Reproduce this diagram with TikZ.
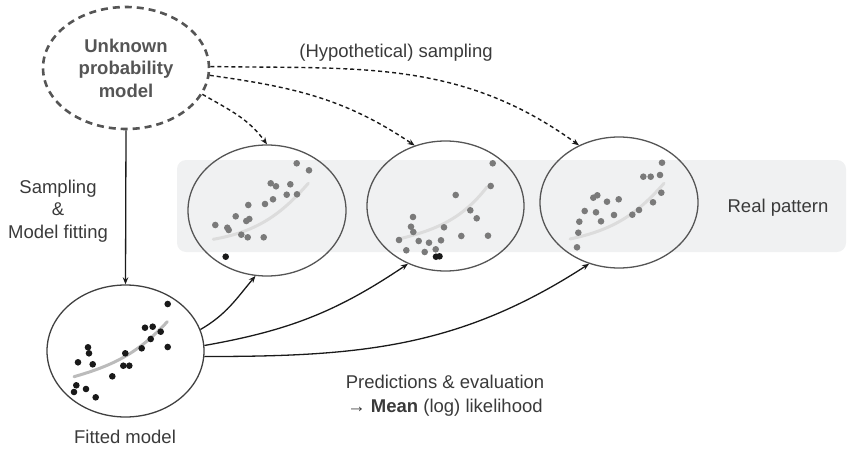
\documentclass[tikz,border=0pt]{standalone}
\usepackage{fontspec}
\setmainfont{Liberation Sans}
\usetikzlibrary{shapes.geometric,arrows.meta}
\definecolor{txt}{HTML}{3A3A3A}
\definecolor{modeltxt}{HTML}{555555}
\definecolor{bandgray}{HTML}{F0F1F2}
\definecolor{rim}{HTML}{555555}
\definecolor{dotgray}{HTML}{7A7A7A}
\definecolor{trend}{HTML}{DCDCDC}
\definecolor{fittrend}{HTML}{BBBBBB}
\definecolor{ink}{HTML}{1A1A1A}
\tikzset{
  lbl/.style={font=\fontsize{18.5}{22}\selectfont, text=txt, align=center, inner sep=0pt},
  sample/.style={ellipse, draw=rim, line width=1.3pt, inner sep=0pt},
  hypo/.style={dash pattern=on 4pt off 3pt, line width=1.4pt, draw=ink,
    -{Stealth[length=7pt,width=5.5pt]}},
  pred/.style={line width=1.3pt, draw=ink, -{Stealth[length=7pt,width=5.5pt]}},
  trendline/.style={trend, line width=3pt, line cap=round},
  gdot/.style={fill=dotgray},
  bdot/.style={fill=black!90},
}
\newcommand{\dotr}{3.3}
\begin{document}
\begin{tikzpicture}[x=1pt,y=1pt]
\useasboundingbox (0,0) rectangle (848,451);

% shaded band behind the three sampled data sets
\fill[bandgray, rounded corners=9pt] (177,199) rectangle (846,291);
\node[lbl] (real) at (778,243) {Real pattern};

% the unknown generating model
\node[ellipse, draw=modeltxt, line width=2.6pt, dash pattern=on 7pt off 5pt,
      minimum width=166pt, minimum height=122pt, inner sep=0pt,
      font=\fontsize{18.5}{22.5}\selectfont\bfseries, text=modeltxt, align=center]
  (u) at (126,383) {Unknown\\probability\\model};

% sampled data sets
\node[sample, minimum width=158pt, minimum height=131pt] (c1) at (267,240.5) {};
\node[sample, minimum width=157pt, minimum height=130pt] (c2) at (445.5,245) {};
\node[sample, minimum width=158pt, minimum height=131pt] (c3) at (619,248.5) {};
\node[sample, draw=black!75, minimum width=157pt, minimum height=132pt] (fit) at (125.5,100) {};

% trend curves
\draw[trendline] (213.3,211.7) to[out=10,in=-131] (308.3,267.7);
\draw[trendline] (399,212) to[out=14,in=-128] (487,264);
\draw[trendline] (570,212) to[out=12,in=-131] (664,267.7);
\draw[trendline, fittrend] (74,74.3) to[out=16,in=-133] (167.3,129.3);

% data set 1
\foreach \p in {(296.7,287.7),(309,280.7),(270.7,267.7),(276,264.7),(290.3,266.7),
  (286.7,256.3),(297,256.7),(273,251.7),(265,247),(248.3,246),(235.7,234.7),
  (249.3,232),(246.3,230),(215.3,226),(227.3,223.3),(228.7,221),(241.3,216.3),
  (247.7,213.7),(263.7,213.7)}
  \fill[gdot] \p circle (\dotr);
\fill[bdot] (225.7,194.3) circle (\dotr);

% data set 2
\foreach \p in {(492.7,287.7),(490.7,265),(455.7,256),(470.3,240.7),(476.7,232.7),
  (413,234),(411,224.3),(413.3,219),(444,223.7),(461.3,215),(488,215.3),(399,211),
  (418.7,210),(429,208.3),(441,210.7),(406.3,200.7),(424.7,199),(435.7,201.7)}
  \fill[gdot] \p circle (\dotr);
\fill[bdot] (436,194.3) circle (\dotr);
\fill[bdot] (439.5,194.7) circle (\dotr);

% data set 3
\foreach \p in {(662,288.3),(643.3,274.3),(650.7,274.3),(660,276),(661.3,258.3),
  (653,248.7),(593.3,253.3),(597.3,255.7),(607,249.3),(618.7,251.7),(584.7,240),
  (596,238.7),(614,236),(632.3,236.3),(639,241),(601,229.7),(579.3,229.3),
  (578.3,218.3),(577,203.7)}
  \fill[gdot] \p circle (\dotr);

% fitted sample
\foreach \p in {(167.7,147),(145,123.3),(152.7,124.3),(160.7,119.3),(150.7,112),
  (141.7,102.7),(167.7,104),(125.3,97.7),(88,103.7),(89,97.7),(78,88.7),(92.7,86.7),
  (123.3,85.3),(129.3,85.3),(112.3,74.7),(76.3,65.7),(74,59),(86,62),(95.7,53.7)}
  \fill[bdot] \p circle (\dotr);

% labels
\node[lbl] (fitlbl) at (125,14) {Fitted model};
\node[lbl, font=\fontsize{18.5}{22.5}\selectfont] (samp) at (58,240) {Sampling\\\&\\Model fitting};
\node[lbl] (hyplbl) at (396,398) {(Hypothetical) sampling};
\node[lbl, font=\fontsize{18.5}{24}\selectfont] (predlbl) at (445,55)
  {Predictions \& evaluation\\→ \textbf{Mean} (log) likelihood};

% sampling and fitting
\draw[pred] (u.south) -- (fit.north);

% hypothetical sampling
\draw[hypo] (u.-19) to[out=-30,in=126] (c1.90);
\draw[hypo] (u.-5) to[out=-8,in=146] (c2.117);
\draw[hypo] (u.1) to[out=-1,in=144] (c3.125);

% predictions from the fitted model
\draw[pred] (fit.16) to[out=30,in=-130] (c1.-100);
\draw[pred] (fit.4) to[out=10,in=-146] (c2.-123);
\draw[pred] (fit.-4) to[out=0,in=-147] (c3.-116);
\end{tikzpicture}
\end{document}
